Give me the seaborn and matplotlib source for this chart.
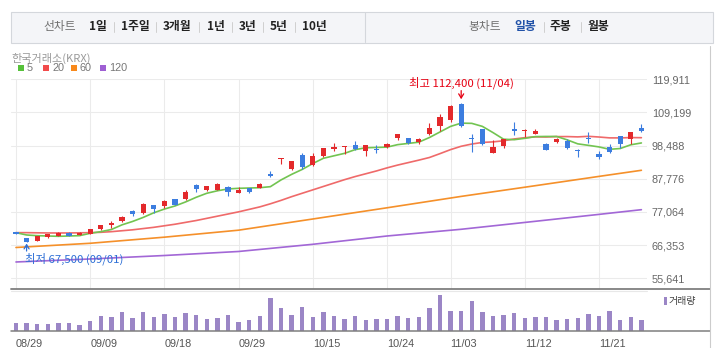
import matplotlib
matplotlib.use("Agg")
import matplotlib.pyplot as plt
import seaborn as sns
import numpy as np
from matplotlib.lines import Line2D
from matplotlib.patches import Rectangle

# ---------------- data ----------------
dates = ['08/29', '09/01', '09/02', '09/03', '09/04', '09/05', '09/08', '09/09', '09/10', '09/11',
         '09/12', '09/15', '09/16', '09/17', '09/18', '09/19', '09/22', '09/23', '09/24', '09/25',
         '09/26', '09/29', '09/30', '10/01', '10/02', '10/10', '10/13', '10/14', '10/15', '10/16',
         '10/17', '10/20', '10/21', '10/22', '10/23', '10/24', '10/27', '10/28', '10/29', '10/30',
         '10/31', '11/03', '11/04', '11/05', '11/06', '11/07', '11/10', '11/11', '11/12', '11/13',
         '11/14', '11/17', '11/18', '11/19', '11/20', '11/21', '11/24', '11/25', '11/26', '11/27']

open_ = [70490, 68550, 67800, 69090, 69300, 70380, 69740, 69950, 71570, 72750,
         74260, 77380, 76620, 79320, 78990, 81150, 81260, 85770, 84050, 84270,
         85240, 83300, 84910, 84910, 89440, 94070, 90940, 95460, 92240, 95140,
         97300, 97940, 98800, 96860, 97300, 97940, 100960, 100960, 99560, 102250,
         104830, 106770, 111940, 100850, 103860, 96220, 98480, 103750, 103110, 102350,
         98910, 99660, 99990, 97080, 101060, 95790, 97940, 101600, 100530, 104290]
high = [70490, 68550, 69300, 69950, 70600, 70490, 70600, 71570, 72970, 74150,
        75870, 77590, 79860, 79430, 80930, 81150, 84160, 86200, 85450, 86420,
        85560, 85020, 84910, 86310, 90400, 94500, 93530, 96220, 96000, 97730,
        99340, 98370, 100090, 98690, 98690, 99230, 102250, 100960, 100960, 105800,
        108700, 111610, 112400, 102140, 103860, 100310, 100530, 106120, 103750, 103970,
        99450, 100960, 100740, 97510, 102790, 96650, 98910, 101600, 102790, 105480]
low = [69840, 67500, 67700, 68770, 69300, 69300, 69520, 69840, 71240, 71990,
       73830, 75870, 76410, 76840, 78460, 79430, 81040, 83620, 83730, 84160,
       82330, 83080, 83300, 84700, 88360, 92670, 90730, 90940, 91910, 94710,
       96650, 95790, 97080, 95140, 96110, 97830, 100310, 99020, 99020, 101920,
       103320, 106230, 104610, 96540, 98690, 96220, 97830, 101920, 101170, 102140,
       97190, 99450, 97400, 94710, 99340, 94280, 96220, 97620, 98910, 102890]
close = [69840, 67500, 69300, 69950, 70380, 69410, 70270, 71460, 72860, 73610,
         75550, 76410, 79640, 78130, 80610, 79430, 83510, 84590, 85340, 85990,
         83400, 84160, 83620, 85990, 88680, 94500, 93530, 91480, 95140, 97730,
         98160, 98160, 97400, 98690, 97080, 99020, 102250, 99230, 100740, 104080,
         107630, 111290, 104830, 100530, 99020, 98050, 100530, 103320, 103320, 103110,
         97190, 100630, 97730, 96650, 100630, 94710, 96540, 99130, 102790, 103320]

# relative trading volume (no scale shown on the chart)
volume = [24, 24, 21, 21, 24, 24, 18, 30, 45, 42, 57, 39, 57, 42, 51, 42, 54, 48, 36, 39,
          48, 27, 33, 45, 99, 69, 48, 72, 42, 57, 45, 36, 45, 33, 36, 36, 45, 39, 42, 69,
          108, 60, 60, 90, 57, 45, 48, 54, 39, 42, 42, 33, 36, 39, 51, 45, 60, 33, 42, 33]

ma5 = [70380, 69630, 69410, 69300, 69200, 69300, 69410, 70170, 70700, 71400,
       72900, 74000, 75300, 76800, 78000, 79000, 80300, 81800, 83100, 83900,
       84500, 84700, 84800, 84900, 85230, 87400, 89200, 90800, 92700, 94400,
       95200, 96000, 97200, 97800, 97900, 98000, 98800, 99200, 99600, 101100,
       102900, 104700, 105750, 105680, 104700, 102700, 100560, 100400, 100850, 101400,
       101450, 101450, 100350, 99060, 98580, 98070, 97300, 97550, 98760, 99350]
ma20 = [70380, 70380, 70330, 70280, 70280, 70280, 70330, 70380, 70490, 70700,
        71000, 71300, 71700, 72100, 72600, 73100, 73700, 74300, 75000, 75700,
        76400, 77100, 77900, 78700, 79700, 80800, 82000, 83100, 84200, 85300,
        86400, 87500, 88500, 89400, 90300, 91300, 92200, 93000, 93800, 94650,
        95900, 97200, 98280, 99000, 99520, 99700, 100050, 100640, 101050, 101320,
        101270, 101400, 101410, 101310, 101490, 101270, 100990, 100980, 101090, 101050]
ma_long_dates = ['08/29', '09/09', '09/18', '09/29', '10/15', '10/24', '11/04', '11/13', '11/21', '11/27']
ma60 = [65590, 66950, 68920, 71180, 74790, 78410, 82090, 85550, 88550, 90520]
ma120 = [60910, 61880, 63000, 64300, 66620, 69300, 71470, 74050, 76280, 77800]

ma_periods = ['5', '20', '60', '120']
ytick_values = [55641, 66353, 77064, 87776, 98488, 109199, 119911]
xtick_dates = ['08/29', '09/09', '09/18', '09/29', '10/15', '10/24', '11/03', '11/12', '11/21']
market_label = '한국거래소(KRX)'
volume_label = '거래량'
line_chart_label = '선차트'
line_tabs = ['1일', '1주일', '3개월', '1년', '3년', '5년', '10년']
candle_chart_label = '봉차트'
candle_tabs = ['일봉', '주봉', '월봉']
active_tab = '일봉'

# ---------------- style ----------------
sns.set_style("white")
plt.rcParams['font.family'] = ['Noto Sans CJK KR', 'DejaVu Sans']

RED = '#e3292b'
BLUE = '#3c7ddf'
MA_COLORS = ['#72c451', '#ef6a6a', '#f5902a', '#a267d6']
LEG_COLORS = ['#56c13a', '#f24b4b', '#f8891b', '#9e5fd3']
VOL_COLOR = '#9b86c6'
NUMFONT = 'Liberation Sans'

W, H = 716, 348
fig = plt.figure(figsize=(W / 100, H / 100), dpi=100)
fig.patch.set_facecolor('white')


def box(l, t, r, b):
    return [l / W, 1 - b / H, (r - l) / W, (b - t) / H]


def fy(y):
    return 1 - y / H


idx = np.arange(len(dates))
ax = fig.add_axes(box(11, 78.8, 647, 288.7))
axv = fig.add_axes(box(11, 290.3, 647, 331.3))
for a in (ax, axv):
    a.set_facecolor('none')
    for s in a.spines.values():
        s.set_visible(False)

# ---------------- moving averages ----------------
long_idx = [dates.index(d) for d in ma_long_dates]
sns.lineplot(x=long_idx, y=ma120, ax=ax, color=MA_COLORS[3], linewidth=1.2, legend=False, zorder=3)
sns.lineplot(x=long_idx, y=ma60, ax=ax, color=MA_COLORS[2], linewidth=1.2, legend=False, zorder=3)
sns.lineplot(x=idx, y=ma20, ax=ax, color=MA_COLORS[1], linewidth=1.2, legend=False, zorder=3)
sns.lineplot(x=idx, y=ma5, ax=ax, color=MA_COLORS[0], linewidth=1.2, legend=False, zorder=3)

# ---------------- candles ----------------
o = np.array(open_); c = np.array(close); hi_ = np.array(high); lo_ = np.array(low)
up = c >= o
cols = np.where(up, RED, BLUE)
min_body = 330
ax.vlines(idx, lo_, hi_, colors=cols, linewidth=0.8, zorder=4)
ax.bar(idx, np.maximum(np.abs(c - o), min_body), bottom=np.minimum(o, c), width=0.5,
       color=cols, linewidth=0, zorder=5)

# ---------------- axes setup ----------------
xt = [dates.index(d) for d in xtick_dates]
ax.set_xlim(-0.47, 59.53)
ax.set_ylim(52280, 120070)
ax.set_xticks(xt)
ax.tick_params(axis='x', length=0, labelbottom=False)
ax.yaxis.tick_right()
ax.set_yticks(ytick_values)
ax.set_yticklabels([f"{v:,}" for v in ytick_values])
ax.tick_params(axis='y', length=0, pad=3.6, labelsize=7.8, labelcolor='#666666',
               labelfontfamily=NUMFONT)
ax.grid(True, color='#ebebeb', linewidth=0.75, zorder=0)
ax.set_axisbelow(True)
ax.set_xlabel(''); ax.set_ylabel('')

# high / low annotations
hi_i = int(np.argmax(hi_)); lo_i = int(np.argmin(lo_))
ax.annotate('', xy=(hi_i, high[hi_i]), xytext=(0, 8.6), textcoords='offset points',
            arrowprops=dict(arrowstyle='->,head_length=0.3,head_width=0.18', color='#e60012',
                            lw=0.9, shrinkA=0, shrinkB=2.4), annotation_clip=False)
ax.annotate(f"최고 {high[hi_i]:,} ({dates[hi_i]})", xy=(hi_i, high[hi_i]), xytext=(0, 13.9),
            textcoords='offset points', ha='center', va='center', color='#e60012',
            fontsize=8.2, annotation_clip=False)
ax.annotate('', xy=(lo_i, low[lo_i]), xytext=(0, -6.8), textcoords='offset points',
            arrowprops=dict(arrowstyle='->,head_length=0.3,head_width=0.18', color='#2d6fd6',
                            lw=0.9, shrinkA=0, shrinkB=1.4), annotation_clip=False)
ax.annotate(f"최저 {low[lo_i]:,} ({dates[lo_i]})", xy=(lo_i, low[lo_i]), xytext=(-1.3, -12.6),
            textcoords='offset points', ha='left', va='center', color='#2d6fd6',
            fontsize=8.2, annotation_clip=False)

# ---------------- volume ----------------
sns.barplot(x=idx, y=volume, native_scale=True, width=0.42, color=VOL_COLOR, saturation=1,
            errorbar=None, linewidth=0, ax=axv)
axv.set_xlim(-0.47, 59.53)
axv.set_ylim(0, max(volume) * 41 / 36)
axv.set_yticks([])
axv.set_xticks(xt)
axv.set_xticklabels(xtick_dates, ha='left')
axv.tick_params(axis='x', length=2.9, width=0.7, color='#999999', pad=2.3, labelsize=7.8,
                labelcolor='#555555', labelfontfamily=NUMFONT)
axv.set_xlabel(''); axv.set_ylabel('')
axv.grid(False)

# ---------------- frame lines ----------------
fig.add_artist(Line2D([11 / W, 710 / W], [fy(288.7)] * 2, color='#7f7f7f', lw=1.3))
fig.add_artist(Line2D([11 / W, 647 / W], [fy(290.6)] * 2, color='#e8e8e8', lw=0.8))
fig.add_artist(Line2D([11 / W, 710 / W], [fy(331.4)] * 2, color='#7f7f7f', lw=1.1))
fig.add_artist(Line2D([710 / W] * 2, [fy(46), fy(348)], color='#cccccc', lw=0.8))

# ---------------- header / legend ----------------
fig.add_artist(Rectangle((11 / W, fy(42.5)), (713 - 11) / W, 31 / H, transform=fig.transFigure,
                         facecolor='#f4f5f8', edgecolor='#d4d7dc', lw=0.8))
fig.add_artist(Line2D([365 / W] * 2, [fy(12), fy(42)], color='#d4d7dc', lw=0.8))
ny = fy(26.8)
fig.text(43 / W, ny, line_chart_label, ha='left', va='center', fontsize=8.5, color='#707070')
tab_x = [89, 121, 163, 207, 239, 270, 302]
for k, (t, x) in enumerate(zip(line_tabs, tab_x)):
    fig.text(x / W, ny, t, ha='left', va='center', fontsize=8.5, color='#222222', fontweight='bold')
    if k > 0:
        sx = x - 7.5
        fig.add_artist(Line2D([sx / W] * 2, [fy(21.5), fy(32)], color='#cfcfcf', lw=0.7))
fig.text(468 / W, ny, candle_chart_label, ha='left', va='center', fontsize=8.5, color='#707070')
ctab_x = [514, 550, 587]
for k, (t, x) in enumerate(zip(candle_tabs, ctab_x)):
    fig.text(x / W, ny, t, ha='left', va='center', fontsize=8.5, fontweight='bold',
             color='#2152a8' if t == active_tab else '#222222')
    if k > 0:
        sx = x - 6.5
        fig.add_artist(Line2D([sx / W] * 2, [fy(21.5), fy(32)], color='#cfcfcf', lw=0.7))

fig.text(11 / W, fy(58.3), market_label, ha='left', va='center', fontsize=8.0, color='#9a9a9a')
leg_sq = [18, 43, 71, 100]
for lab, col, x in zip(ma_periods, LEG_COLORS, leg_sq):
    fig.add_artist(Rectangle((x / W, fy(71.2)), 5.5 / W, 6 / H, transform=fig.transFigure,
                             facecolor=col, edgecolor='none'))
    fig.text((x + 9) / W, fy(68.4), lab, ha='left', va='center', fontsize=7.8, color='#777777',
             fontfamily=NUMFONT)

fig.add_artist(Rectangle((664 / W, fy(305.3)), 2.5 / W, 8 / H, transform=fig.transFigure,
                         facecolor=VOL_COLOR, edgecolor='none'))
fig.text(668.5 / W, fy(301.3), volume_label, ha='left', va='center', fontsize=7.2, color='#444444')

fig.savefig('out.png', dpi=100, facecolor='white')
